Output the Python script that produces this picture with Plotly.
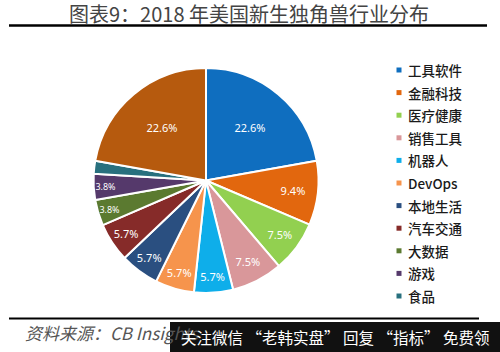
import plotly.graph_objects as go

categories = ["工具软件", "金融科技", "医疗健康", "销售工具", "机器人", "DevOps",
              "本地生活", "汽车交通", "大数据", "游戏", "食品", "其他"]
values = [22.6, 9.4, 7.5, 7.5, 5.7, 5.7, 5.7, 5.7, 3.8, 3.8, 1.9, 22.6]
labels_text = ["22.6%", "9.4%", "7.5%", "7.5%", "5.7%", "5.7%", "5.7%", "5.7%",
               "3.8%", "3.8%", "", "22.6%"]
legend_items = categories[:11]
colors = ["#0F6EBF", "#E2670E", "#92D050", "#D9979A", "#0EAEEA", "#F6944C",
          "#2A4F80", "#862B29", "#5B7A30", "#55396B", "#28707E", "#B65A0E"]

W, H = 500, 352

fig = go.Figure()
fig.add_trace(go.Pie(
    labels=categories, values=values, text=labels_text,
    texttemplate="%{text}", textinfo="text", textposition="inside",
    insidetextorientation="horizontal",
    sort=False, direction="clockwise", rotation=0,
    marker=dict(colors=colors, line=dict(color="white", width=2)),
    textfont=dict(color="white", size=11, family="Noto Sans"),
    domain=dict(x=[93 / W, 319 / W], y=[1 - 293 / H, 1 - 68 / H]),
    showlegend=False, hoverinfo="label+text",
))

# decorative horizontal rules (title underline and footer rule), in page pixels
rules = [(9, 487, 25.5, 2.5), (9, 479, 318.5, 2)]
for (x0, x1, yc, th) in rules:
    fig.add_trace(go.Scatter(x=[x0, x1], y=[yc, yc], mode="lines",
                             line=dict(color="black", width=th),
                             showlegend=False, hoverinfo="skip", cliponaxis=False))

shapes = []
annotations = []

annotations.append(dict(text="图表9：2018 年美国新生独角兽行业分布", x=249 / W, y=1 - 13.5 / H,
                        xref="paper", yref="paper", xanchor="center", yanchor="middle",
                        showarrow=False,
                        font=dict(size=20, color="#444444", family="Noto Sans CJK SC")))

# legend
for i, name in enumerate(legend_items):
    yc = 70 + i * 22.6
    shapes.append(dict(type="rect", xref="paper", yref="paper",
                       x0=396.5 / W, x1=401.5 / W, y0=1 - (yc + 2.5) / H, y1=1 - (yc - 2.5) / H,
                       fillcolor=colors[i], line=dict(width=0)))
    annotations.append(dict(text=name, x=406 / W, y=1 - yc / H, xref="paper", yref="paper",
                            xanchor="left", yanchor="middle", showarrow=False,
                            font=dict(size=13.5, color="#1a1a1a", family="Noto Sans CJK SC",
                                      weight=500)))

# source + watermark
annotations.append(dict(text="<i>资料来源：CB Insights</i>", x=23 / W, y=1 - 332 / H,
                        xref="paper", yref="paper", xanchor="left", yanchor="middle",
                        showarrow=False,
                        font=dict(size=17, color="#555555", family="Noto Sans CJK SC")))
shapes.append(dict(type="rect", xref="paper", yref="paper", x0=170 / W, x1=1,
                   y0=0, y1=1 - 322 / H, fillcolor="#111111", line=dict(width=0)))
annotations.append(dict(text="关注微信 “老韩实盘” 回复 “指标” 免费领", x=179 / W, y=1 - 337 / H,
                        xref="paper", yref="paper", xanchor="left", yanchor="middle",
                        showarrow=False,
                        font=dict(size=15.5, color="white", family="Noto Sans CJK SC")))

fig.update_layout(width=W, height=H, margin=dict(l=0, r=0, t=0, b=0),
                  paper_bgcolor="white", plot_bgcolor="rgba(0,0,0,0)",
                  xaxis=dict(range=[0, W], visible=False, fixedrange=True, domain=[0, 1]),
                  yaxis=dict(range=[H, 0], visible=False, fixedrange=True, domain=[0, 1]),
                  shapes=shapes, annotations=annotations)
fig.write_html("out.html")
